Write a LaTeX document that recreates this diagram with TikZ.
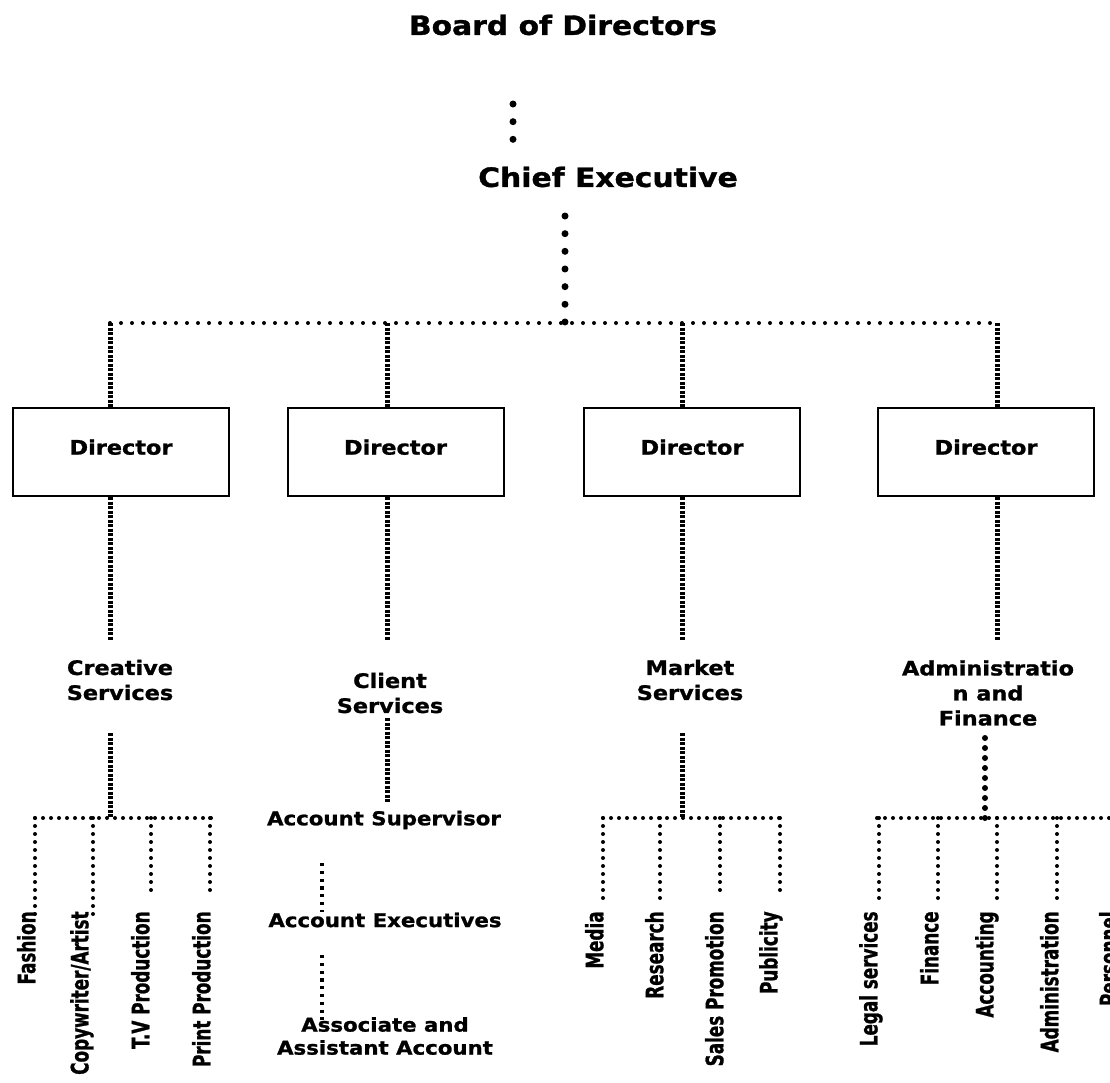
\documentclass[tikz,border=0pt]{standalone}
\usepackage{fontspec}
\newfontfamily\orgfont[FakeStretch=1.12, BoldFeatures={FakeBold=1.2}]{DejaVu Sans}
\newfontfamily\narrowfont[FakeStretch=0.7, BoldFeatures={FakeBold=1}]{DejaVu Sans}

\tikzset{
  title/.style={inner sep=0pt, font=\orgfont\bfseries\fontsize{13.3}{16}\selectfont},
  dirbox/.style={draw, line width=1pt, minimum width=108pt, minimum height=44pt,
    inner sep=0pt, text depth=5pt, font=\orgfont\bfseries\fontsize{10}{12}\selectfont},
  unitlbl/.style={align=center, inner sep=0pt, font=\orgfont\bfseries\fontsize{10}{12.5}\selectfont},
  acclbl/.style={align=center, inner sep=0pt, font=\orgfont\bfseries\fontsize{9.5}{11.5}\selectfont},
  jobtxt/.style={rotate=90, anchor=south east, inner sep=0pt,
    font=\narrowfont\bfseries\fontsize{12}{14}\selectfont},
  bigdots/.style={line width=3.5pt, line cap=round, dash pattern=on 0pt off 8.83pt},
  bardots/.style={line width=2pt, line cap=round, dash pattern=on 0pt off 5.5pt},
  dense/.style={line width=2.5pt, dash pattern=on 1.5pt off 0.75pt},
  smalldots/.style={line width=2pt, line cap=round, dash pattern=on 0pt off 4pt},
  meddots/.style={line width=2.3pt, dash pattern=on 1.6pt off 2.3pt},
  admdots/.style={line width=3pt, line cap=round, dash pattern=on 0pt off 5pt}
}

\begin{document}
\begin{tikzpicture}[x=0.5pt,y=-0.5pt]
\useasboundingbox (0,0) rectangle (1110,1083);

% top of the chart
\node[title] (board) at (563,25) {Board of Directors};
\node[title] (ceo) at (608,177) {Chief Executive};
\coordinate (b1) at (513,104);
\coordinate (b2) at (513,141);
\draw[bigdots] (b1) -- (b2);

\coordinate (c0) at (565,216);
\coordinate (j1) at (110,323);
\coordinate (j2) at (387,323);
\coordinate (j3) at (682,323);
\coordinate (j4) at (997,323);
\draw[bigdots] (c0) -- (c0 |- j1);
\draw[bardots] (j1) -- (j4);

% directors
\node[dirbox] (dcre) at (121,452) {Director};
\node[dirbox] (dcli) at (395.5,452) {Director};
\node[dirbox] (dmkt) at (692,452) {Director};
\node[dirbox] (dadm) at (986,452) {Director};
\draw[dense] (j1) -- (j1 |- dcre.north);
\draw[dense] (j2) -- (j2 |- dcli.north);
\draw[dense] (j3) -- (j3 |- dmkt.north);
\draw[dense] (j4) -- (j4 |- dadm.north);

% departments
\node[unitlbl] (cre) at (120,680) {Creative\\Services};
\node[unitlbl] (cli) at (390,693) {Client\\Services};
\node[unitlbl] (mkt) at (690,680) {Market\\Services};
\node[unitlbl] (adm) at (988,693) {Administratio\\n and\\Finance};
\coordinate (e1) at (110,640);
\coordinate (e2) at (387,640);
\coordinate (e3) at (682,640);
\coordinate (e4) at (997,640);
\draw[dense] (j1 |- dcre.south) -- (e1);
\draw[dense] (j2 |- dcli.south) -- (e2);
\draw[dense] (j3 |- dmkt.south) -- (e3);
\draw[dense] (j4 |- dadm.south) -- (e4);

% client services
\node[acclbl] (sup) at (384,820) {Account Supervisor};
\node[acclbl] (exe) at (385,920) {Account Executives};
\node[acclbl] (asc) at (385,1036) {Associate and\\Assistant Account};
\draw[dense] (387,718) -- (387,803);
\draw[meddots] (322,863) -- (322,912);
\draw[meddots] (322,955) -- (322,1020);

% creative services
\coordinate (k1) at (110,818);
\draw[dense] (110,733) -- (k1);
\draw[smalldots] (35,818) -- (212,818);
\draw[smalldots] (35,818) -- (35,915);
\draw[smalldots] (93,818) -- (93,915);
\draw[smalldots] (151,818) -- (151,897);
\draw[smalldots] (210,818) -- (210,897);
\node[jobtxt] (fash) at (36,911) {Fashion};
\node[jobtxt] (copy) at (94,911) {Copywriter/Artist};
\node[jobtxt] (tvp) at (150,911) {T.V Production};
\node[jobtxt] (prp) at (211,911) {Print Production};

% market services
\coordinate (k3) at (682,818);
\draw[dense] (682,733) -- (k3);
\draw[smalldots] (603,818) -- (782,818);
\draw[smalldots] (603,818) -- (603,905);
\draw[smalldots] (660,818) -- (660,905);
\draw[smalldots] (720,818) -- (720,897);
\draw[smalldots] (780,818) -- (780,897);
\node[jobtxt] (media) at (604,911) {Media};
\node[jobtxt] (res) at (664,911) {Research};
\node[jobtxt] (sales) at (724,911) {Sales Promotion};
\node[jobtxt] (pub) at (783,911) {Publicity};

% administration and finance
\coordinate (k4) at (985,822);
\draw[admdots] (985,738) -- (k4);
\draw[smalldots] (877,818) -- (1110,818);
\draw[smalldots] (879,818) -- (879,898);
\draw[smalldots] (938,818) -- (938,898);
\draw[smalldots] (997,818) -- (997,898);
\draw[smalldots] (1057,818) -- (1057,898);
\node[jobtxt] (legal) at (883,911) {Legal services};
\node[jobtxt] (fin) at (939,911) {Finance};
\node[jobtxt] (acc) at (999,911) {Accounting};
\node[jobtxt] (admn) at (1059,911) {Administration};
\node[jobtxt] (pers) at (1118,911) {Personnel};
\end{tikzpicture}
\end{document}
